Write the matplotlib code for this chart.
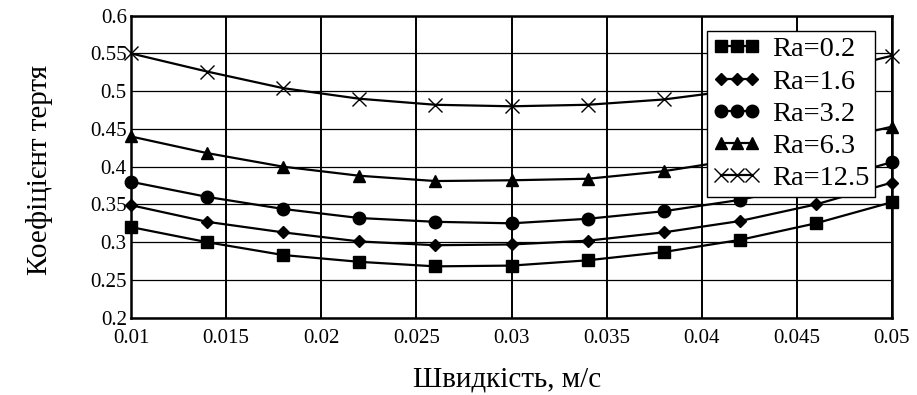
import matplotlib
matplotlib.use("Agg")
import matplotlib.pyplot as plt

plt.rcParams['font.family'] = ['Liberation Serif', 'DejaVu Serif']

speed = [0.010, 0.014, 0.018, 0.022, 0.026, 0.030, 0.034, 0.038, 0.042, 0.046, 0.050]
ra_02 = [0.320, 0.300, 0.283, 0.274, 0.268, 0.269, 0.276, 0.287, 0.303, 0.325, 0.353]
ra_16 = [0.349, 0.327, 0.313, 0.301, 0.296, 0.297, 0.302, 0.313, 0.328, 0.350, 0.379]
ra_32 = [0.380, 0.360, 0.344, 0.332, 0.327, 0.325, 0.331, 0.341, 0.356, 0.378, 0.406]
ra_63 = [0.440, 0.418, 0.400, 0.388, 0.381, 0.382, 0.384, 0.394, 0.410, 0.430, 0.453]
ra_125 = [0.550, 0.526, 0.504, 0.490, 0.482, 0.480, 0.482, 0.489, 0.502, 0.522, 0.547]
labels = ["Ra=0.2", "Ra=1.6", "Ra=3.2", "Ra=6.3", "Ra=12.5"]
xticks = [0.01, 0.015, 0.02, 0.025, 0.03, 0.035, 0.04, 0.045, 0.05]
xtick_labels = ["0.01", "0.015", "0.02", "0.025", "0.03", "0.035", "0.04", "0.045", "0.05"]
yticks = [0.2, 0.25, 0.3, 0.35, 0.4, 0.45, 0.5, 0.55, 0.6]
ytick_labels = ["0.2", "0.25", "0.3", "0.35", "0.4", "0.45", "0.5", "0.55", "0.6"]

fig = plt.figure(figsize=(9.17, 3.95), dpi=100)
ax = fig.add_axes([0.1429, 0.1957, 0.8298, 0.7646])

styles = [
    dict(marker='s', markersize=9),
    dict(marker='D', markersize=6.5),
    dict(marker='o', markersize=9),
    dict(marker='^', markersize=9),
    dict(marker='x', markersize=10, markeredgewidth=1.0),
]
series = [ra_02, ra_16, ra_32, ra_63, ra_125]
for ys, lab, st in zip(series, labels, styles):
    ax.plot(speed, ys, color='black', linewidth=1.6, label=lab, clip_on=False,
            markerfacecolor='black', markeredgecolor='black', **st)

ax.set_xlim(0.01, 0.05)
ax.set_ylim(0.2, 0.6)
ax.set_xticks(xticks)
ax.set_xticklabels(xtick_labels)
ax.set_yticks(yticks)
ax.set_yticklabels(ytick_labels)
ax.tick_params(axis='both', length=0, labelsize=15, colors='black')
ax.tick_params(axis='x', pad=8)
ax.tick_params(axis='y', pad=3)
ax.xaxis.grid(True, color='black', linewidth=1.4)
ax.yaxis.grid(True, color='black', linewidth=0.9)
ax.set_axisbelow(True)
for sp in ax.spines.values():
    sp.set_linewidth(1.8)
    sp.set_color('black')

fig.text(0.553, 0.038, "Швидкість, м/с", fontsize=21, ha='center', va='center')
fig.text(40 / 917, 0.5696, "Коефіцієнт тертя", fontsize=21, ha='center', va='center',
         rotation=90)

leg = ax.legend(loc='upper right', bbox_to_anchor=(0.978, 0.95), fontsize=20.5,
                numpoints=3, handlelength=1.7, handletextpad=0.4,
                fancybox=False, framealpha=1, edgecolor='black',
                borderpad=0.2, labelspacing=0.22, borderaxespad=0)
leg.get_frame().set_linewidth(1.0)

fig.savefig("out.png", dpi=100)
